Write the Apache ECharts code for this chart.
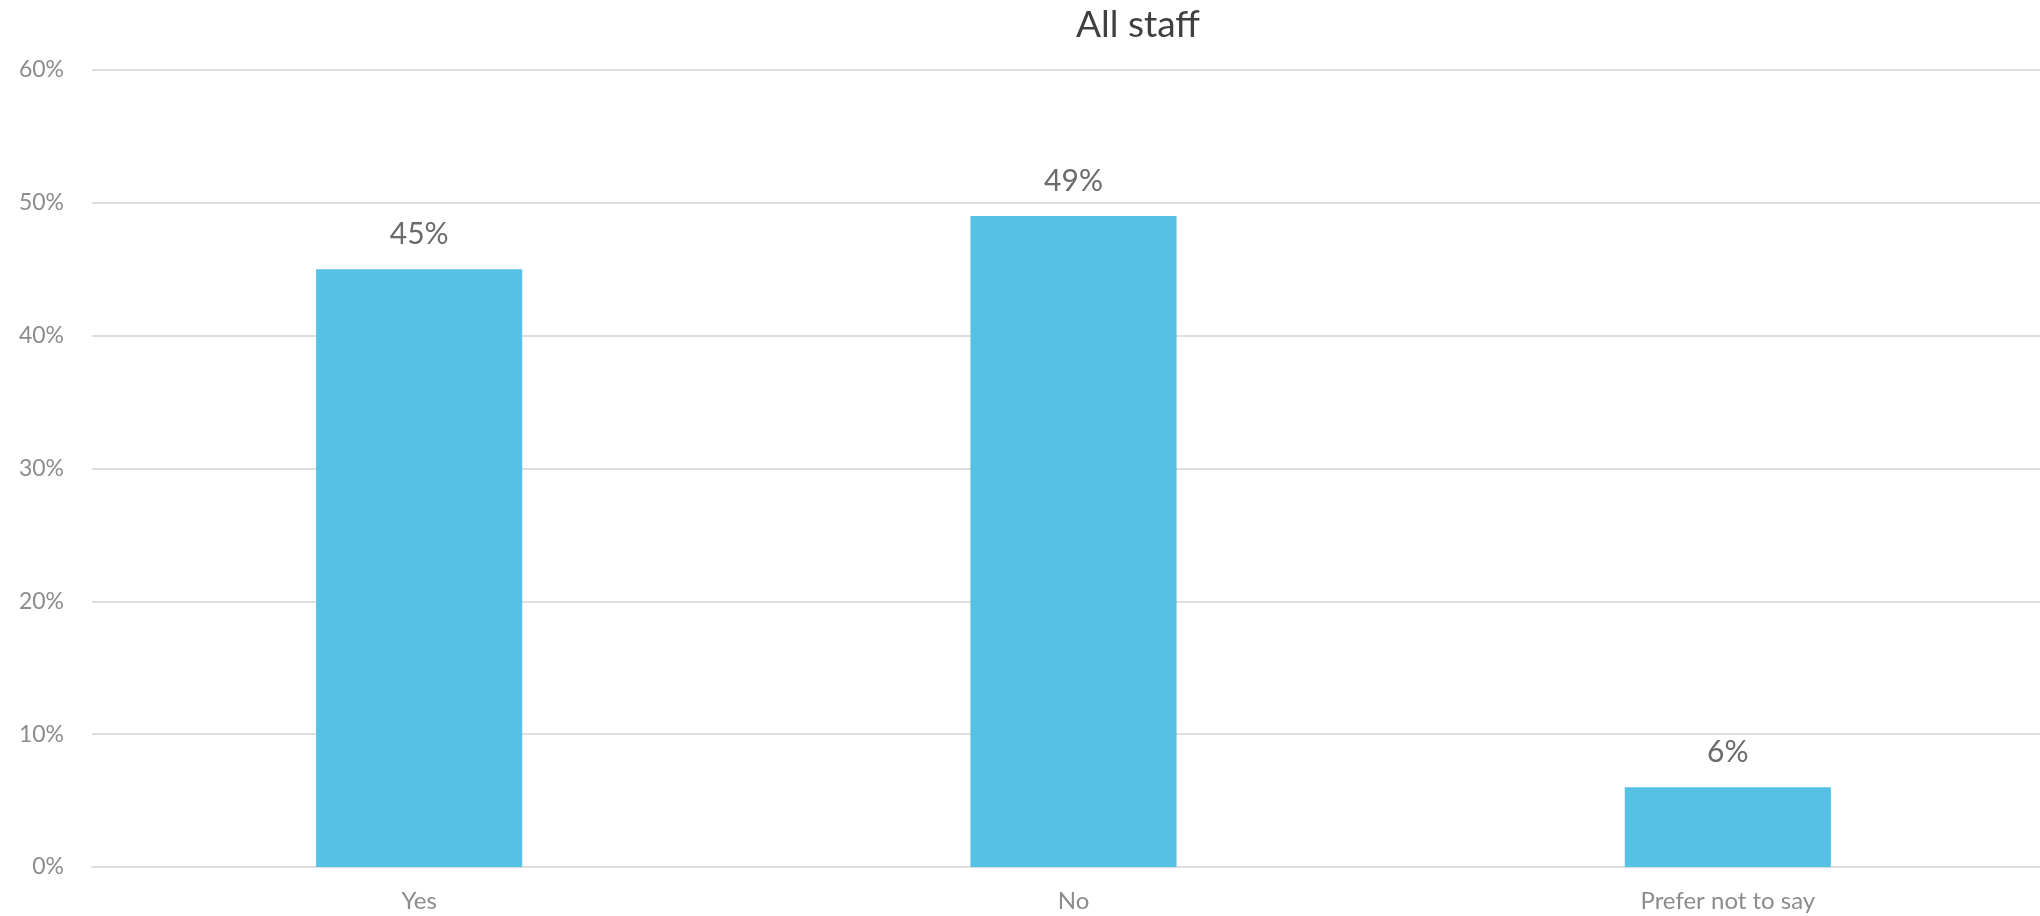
<!DOCTYPE html>
<html>
<head>
<meta charset="utf-8">
<style>
  html, body { margin: 0; padding: 0; background: #fff; overflow: hidden; }
  /* the plot runs a little past the right edge of the picture */
  #chart { width: 2055px; height: 916px; }
</style>
<script src="https://cdn.jsdelivr.net/npm/echarts@6/dist/echarts.min.js"></script>
</head>
<body>
<div id="chart"></div>
<script>
  // data
  var categories = ['Yes', 'No', 'Prefer not to say'];
  var values = [45, 49, 6];
  var yTicks = [0, 10, 20, 30, 40, 50, 60];

  var font = 'Lato, "Open Sans", sans-serif';
  var chart = echarts.init(document.getElementById('chart'));

  var option = {
    animation: false,
    title: {
      text: 'All staff',
      left: 1133,
      top: 2,
      textAlign: 'center',
      textStyle: { fontFamily: font, fontSize: 37, fontWeight: 'normal', color: '#404040' }
    },
    grid: { left: 92, top: 70, right: 0, height: 797, containLabel: false },
    xAxis: {
      type: 'category',
      data: categories,
      axisLine: { lineStyle: { color: '#dedede', width: 2 } },
      axisTick: { show: false },
      axisLabel: { margin: 22, fontFamily: font, fontSize: 24, color: '#8c8c8c' }
    },
    yAxis: {
      type: 'value',
      min: yTicks[0],
      max: yTicks[yTicks.length - 1],
      interval: 10,
      axisLine: { show: false },
      axisTick: { show: false },
      splitLine: { lineStyle: { color: '#dedede', width: 2 } },
      axisLabel: {
        margin: 28,
        fontFamily: font, fontSize: 23, color: '#8c8c8c',
        formatter: function (v) { return v + '%'; }
      }
    },
    series: [{
      type: 'bar',
      data: values,
      barWidth: '31.5%',
      itemStyle: { color: '#55c2e5' },
      label: {
        show: true,
        position: 'top',
        distance: 20,
        fontFamily: font, fontSize: 30, color: '#6b6b6b',
        formatter: function (p) { return p.value + '%'; }
      }
    }]
  };

  chart.setOption(option);
</script>
</body>
</html>
